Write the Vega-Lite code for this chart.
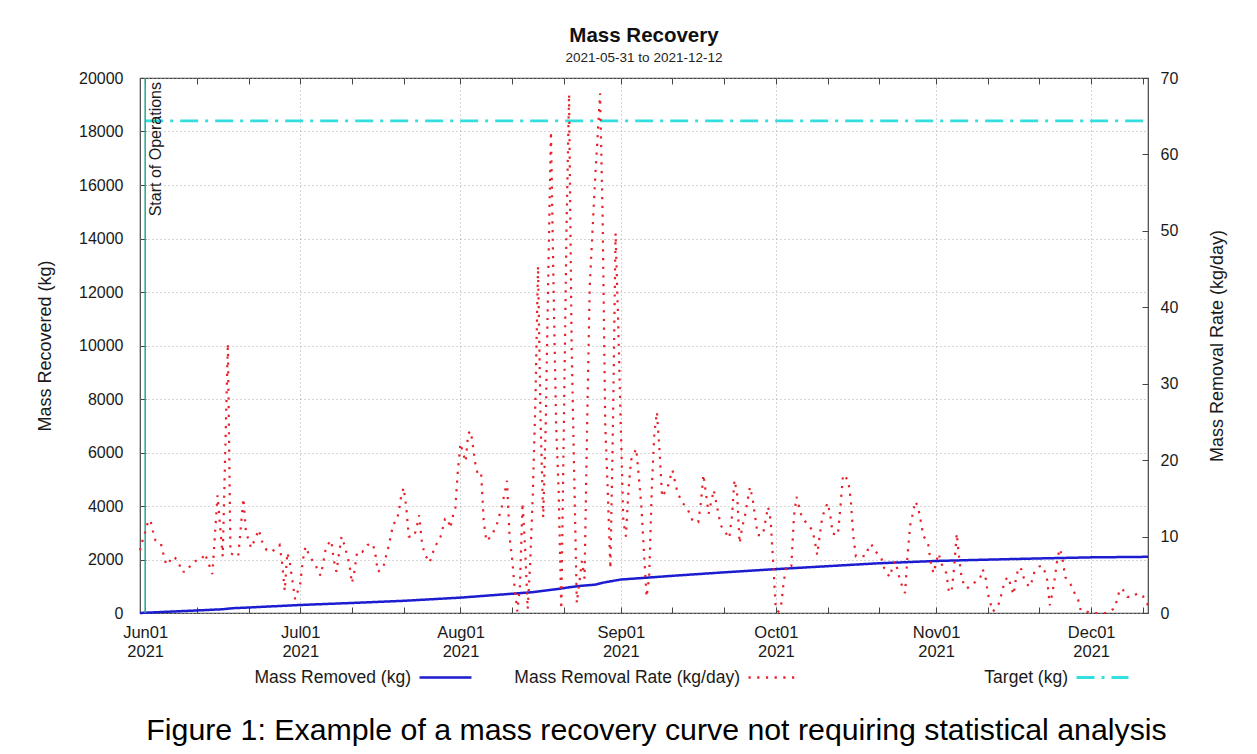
{
  "$schema": "https://vega.github.io/schema/vega-lite/v6.json",
  "width": 1008,
  "height": 535,
  "autosize": {"type": "none"},
  "padding": {"left": 140, "top": 78, "right": 109, "bottom": 141},
  "background": "white",
  "title": {
    "text": "Mass Recovery",
    "subtitle": "2021-05-31 to 2021-12-12",
    "anchor": "middle",
    "font": "Liberation Sans",
    "fontSize": 20.5,
    "fontWeight": "bold",
    "color": "#111",
    "subtitleFont": "Liberation Sans",
    "subtitleFontSize": 13.5,
    "subtitleColor": "#222",
    "subtitlePadding": 4,
    "offset": 6
  },
  "datasets": {
    "mass": [
      {"date": "2021-05-31", "kg": 0, "series": "Mass Removed (kg)"},
      {"date": "2021-06-01", "kg": 10, "series": "Mass Removed (kg)"},
      {"date": "2021-06-11", "kg": 95, "series": "Mass Removed (kg)"},
      {"date": "2021-06-16", "kg": 140, "series": "Mass Removed (kg)"},
      {"date": "2021-06-18", "kg": 180, "series": "Mass Removed (kg)"},
      {"date": "2021-06-21", "kg": 205, "series": "Mass Removed (kg)"},
      {"date": "2021-07-01", "kg": 300, "series": "Mass Removed (kg)"},
      {"date": "2021-07-11", "kg": 375, "series": "Mass Removed (kg)"},
      {"date": "2021-07-21", "kg": 455, "series": "Mass Removed (kg)"},
      {"date": "2021-08-01", "kg": 575, "series": "Mass Removed (kg)"},
      {"date": "2021-08-11", "kg": 720, "series": "Mass Removed (kg)"},
      {"date": "2021-08-15", "kg": 780, "series": "Mass Removed (kg)"},
      {"date": "2021-08-17", "kg": 830, "series": "Mass Removed (kg)"},
      {"date": "2021-08-20", "kg": 900, "series": "Mass Removed (kg)"},
      {"date": "2021-08-22", "kg": 960, "series": "Mass Removed (kg)"},
      {"date": "2021-08-24", "kg": 1010, "series": "Mass Removed (kg)"},
      {"date": "2021-08-27", "kg": 1060, "series": "Mass Removed (kg)"},
      {"date": "2021-08-29", "kg": 1150, "series": "Mass Removed (kg)"},
      {"date": "2021-09-01", "kg": 1250, "series": "Mass Removed (kg)"},
      {"date": "2021-09-11", "kg": 1390, "series": "Mass Removed (kg)"},
      {"date": "2021-09-21", "kg": 1520, "series": "Mass Removed (kg)"},
      {"date": "2021-10-01", "kg": 1640, "series": "Mass Removed (kg)"},
      {"date": "2021-10-11", "kg": 1750, "series": "Mass Removed (kg)"},
      {"date": "2021-10-21", "kg": 1860, "series": "Mass Removed (kg)"},
      {"date": "2021-11-01", "kg": 1945, "series": "Mass Removed (kg)"},
      {"date": "2021-11-11", "kg": 1995, "series": "Mass Removed (kg)"},
      {"date": "2021-11-21", "kg": 2040, "series": "Mass Removed (kg)"},
      {"date": "2021-12-01", "kg": 2080, "series": "Mass Removed (kg)"},
      {"date": "2021-12-12", "kg": 2100, "series": "Mass Removed (kg)"}
    ],
    "target": [
      {"date": "2021-06-01", "kg": 18400, "tseries": "Target (kg)"},
      {"date": "2021-12-12", "kg": 18400, "tseries": "Target (kg)"}
    ],
    "ops": [
      {"date": "2021-06-01", "label": "Start of Operations"}
    ],
    "rate": [
      {"date": "2021-05-31", "rate": 8.2},
      {"date": "2021-05-31T12:00:00Z", "rate": 9.5},
      {"date": "2021-06-01", "rate": 10.6},
      {"date": "2021-06-01T12:00:00Z", "rate": 11.8},
      {"date": "2021-06-02", "rate": 12.2},
      {"date": "2021-06-02T12:00:00Z", "rate": 10.7},
      {"date": "2021-06-03", "rate": 9.5},
      {"date": "2021-06-04", "rate": 9.2},
      {"date": "2021-06-04T12:00:00Z", "rate": 7.8},
      {"date": "2021-06-05", "rate": 6.5},
      {"date": "2021-06-05T12:00:00Z", "rate": 6.3},
      {"date": "2021-06-06", "rate": 7.2},
      {"date": "2021-06-06T12:00:00Z", "rate": 7.4},
      {"date": "2021-06-07T12:00:00Z", "rate": 6.7},
      {"date": "2021-06-08", "rate": 5.4},
      {"date": "2021-06-09", "rate": 5.4},
      {"date": "2021-06-10", "rate": 6.5},
      {"date": "2021-06-11T12:00:00Z", "rate": 7.1},
      {"date": "2021-06-12", "rate": 7.1},
      {"date": "2021-06-12T12:00:00Z", "rate": 7.8},
      {"date": "2021-06-13", "rate": 7.0},
      {"date": "2021-06-14", "rate": 5.1},
      {"date": "2021-06-15", "rate": 15.4},
      {"date": "2021-06-16", "rate": 7.4},
      {"date": "2021-06-17", "rate": 35.3},
      {"date": "2021-06-17T12:00:00Z", "rate": 7.8},
      {"date": "2021-06-19", "rate": 7.4},
      {"date": "2021-06-20", "rate": 15.0},
      {"date": "2021-06-20T12:00:00Z", "rate": 10.6},
      {"date": "2021-06-21T12:00:00Z", "rate": 8.5},
      {"date": "2021-06-23", "rate": 10.9},
      {"date": "2021-06-23T12:00:00Z", "rate": 9.5},
      {"date": "2021-06-24T12:00:00Z", "rate": 8.2},
      {"date": "2021-06-25T12:00:00Z", "rate": 8.0},
      {"date": "2021-06-27", "rate": 8.9},
      {"date": "2021-06-27T12:00:00Z", "rate": 6.5},
      {"date": "2021-06-28", "rate": 2.9},
      {"date": "2021-06-28T12:00:00Z", "rate": 7.9},
      {"date": "2021-06-29", "rate": 6.5},
      {"date": "2021-06-30", "rate": 1.8},
      {"date": "2021-07-01", "rate": 3.8},
      {"date": "2021-07-01T12:00:00Z", "rate": 6.9},
      {"date": "2021-07-02", "rate": 8.7},
      {"date": "2021-07-03", "rate": 7.2},
      {"date": "2021-07-04", "rate": 6.3},
      {"date": "2021-07-04T12:00:00Z", "rate": 5.2},
      {"date": "2021-07-05", "rate": 4.9},
      {"date": "2021-07-06", "rate": 8.7},
      {"date": "2021-07-07", "rate": 9.5},
      {"date": "2021-07-07T12:00:00Z", "rate": 6.9},
      {"date": "2021-07-08", "rate": 5.4},
      {"date": "2021-07-08T12:00:00Z", "rate": 7.8},
      {"date": "2021-07-09", "rate": 10.0},
      {"date": "2021-07-09T12:00:00Z", "rate": 9.0},
      {"date": "2021-07-10", "rate": 7.7},
      {"date": "2021-07-10T12:00:00Z", "rate": 6.4},
      {"date": "2021-07-11", "rate": 3.9},
      {"date": "2021-07-11T12:00:00Z", "rate": 5.5},
      {"date": "2021-07-12", "rate": 8.0},
      {"date": "2021-07-13", "rate": 8.0},
      {"date": "2021-07-14", "rate": 8.9},
      {"date": "2021-07-15", "rate": 9.1},
      {"date": "2021-07-15T12:00:00Z", "rate": 7.9},
      {"date": "2021-07-16", "rate": 5.4},
      {"date": "2021-07-17", "rate": 5.8},
      {"date": "2021-07-17T12:00:00Z", "rate": 7.2},
      {"date": "2021-07-18", "rate": 8.5},
      {"date": "2021-07-18T12:00:00Z", "rate": 10.0},
      {"date": "2021-07-19", "rate": 11.7},
      {"date": "2021-07-19T12:00:00Z", "rate": 11.9},
      {"date": "2021-07-20", "rate": 13.0},
      {"date": "2021-07-20T12:00:00Z", "rate": 15.2},
      {"date": "2021-07-21", "rate": 16.4},
      {"date": "2021-07-21T12:00:00Z", "rate": 13.9},
      {"date": "2021-07-22", "rate": 10.0},
      {"date": "2021-07-23", "rate": 10.0},
      {"date": "2021-07-23T12:00:00Z", "rate": 11.1},
      {"date": "2021-07-24", "rate": 12.8},
      {"date": "2021-07-24T12:00:00Z", "rate": 9.5},
      {"date": "2021-07-25", "rate": 7.8},
      {"date": "2021-07-26", "rate": 6.6},
      {"date": "2021-07-26T12:00:00Z", "rate": 7.5},
      {"date": "2021-07-27", "rate": 8.7},
      {"date": "2021-07-28", "rate": 9.6},
      {"date": "2021-07-28T12:00:00Z", "rate": 10.9},
      {"date": "2021-07-29", "rate": 12.3},
      {"date": "2021-07-29T12:00:00Z", "rate": 12.4},
      {"date": "2021-07-30", "rate": 11.1},
      {"date": "2021-07-30T12:00:00Z", "rate": 12.6},
      {"date": "2021-07-31", "rate": 13.7},
      {"date": "2021-07-31T12:00:00Z", "rate": 18.7},
      {"date": "2021-08-01", "rate": 22.2},
      {"date": "2021-08-01T12:00:00Z", "rate": 20.9},
      {"date": "2021-08-02", "rate": 19.8},
      {"date": "2021-08-02T12:00:00Z", "rate": 23.5},
      {"date": "2021-08-03", "rate": 23.8},
      {"date": "2021-08-03T12:00:00Z", "rate": 21.4},
      {"date": "2021-08-04", "rate": 18.9},
      {"date": "2021-08-04T12:00:00Z", "rate": 18.0},
      {"date": "2021-08-05", "rate": 18.2},
      {"date": "2021-08-05T12:00:00Z", "rate": 12.0},
      {"date": "2021-08-06", "rate": 9.4},
      {"date": "2021-08-07", "rate": 10.1},
      {"date": "2021-08-08", "rate": 11.5},
      {"date": "2021-08-09", "rate": 13.9},
      {"date": "2021-08-10", "rate": 17.3},
      {"date": "2021-08-10T12:00:00Z", "rate": 9.9},
      {"date": "2021-08-11", "rate": 7.0},
      {"date": "2021-08-11T12:00:00Z", "rate": 3.1},
      {"date": "2021-08-12", "rate": 0.2},
      {"date": "2021-08-12T12:00:00Z", "rate": 3.6},
      {"date": "2021-08-13", "rate": 14.4},
      {"date": "2021-08-13T12:00:00Z", "rate": 8.5},
      {"date": "2021-08-14", "rate": 0.5},
      {"date": "2021-08-14T12:00:00Z", "rate": 6.8},
      {"date": "2021-08-15", "rate": 15.7},
      {"date": "2021-08-15T12:00:00Z", "rate": 28.0},
      {"date": "2021-08-16", "rate": 45.4},
      {"date": "2021-08-16T12:00:00Z", "rate": 25.0},
      {"date": "2021-08-17", "rate": 12.5},
      {"date": "2021-08-17T12:00:00Z", "rate": 25.0},
      {"date": "2021-08-18", "rate": 45.0},
      {"date": "2021-08-18T12:00:00Z", "rate": 63.0},
      {"date": "2021-08-19", "rate": 42.7},
      {"date": "2021-08-19T12:00:00Z", "rate": 24.7},
      {"date": "2021-08-20", "rate": 15.7},
      {"date": "2021-08-20T12:00:00Z", "rate": 0.5},
      {"date": "2021-08-21", "rate": 24.7},
      {"date": "2021-08-21T12:00:00Z", "rate": 50.0},
      {"date": "2021-08-22", "rate": 67.9},
      {"date": "2021-08-22T12:00:00Z", "rate": 35.0},
      {"date": "2021-08-23", "rate": 18.0},
      {"date": "2021-08-23T12:00:00Z", "rate": 1.3},
      {"date": "2021-08-24T12:00:00Z", "rate": 6.8},
      {"date": "2021-08-25", "rate": 4.5},
      {"date": "2021-08-25T12:00:00Z", "rate": 24.7},
      {"date": "2021-08-26", "rate": 42.7},
      {"date": "2021-08-27", "rate": 56.2},
      {"date": "2021-08-28", "rate": 68.0},
      {"date": "2021-08-28T12:00:00Z", "rate": 51.7},
      {"date": "2021-08-29", "rate": 24.7},
      {"date": "2021-08-29T12:00:00Z", "rate": 15.7},
      {"date": "2021-08-30", "rate": 5.8},
      {"date": "2021-08-30T12:00:00Z", "rate": 24.7},
      {"date": "2021-08-31", "rate": 49.7},
      {"date": "2021-08-31T12:00:00Z", "rate": 38.2},
      {"date": "2021-09-01", "rate": 24.7},
      {"date": "2021-09-01T12:00:00Z", "rate": 12.0},
      {"date": "2021-09-02", "rate": 10.0},
      {"date": "2021-09-02T12:00:00Z", "rate": 16.1},
      {"date": "2021-09-03", "rate": 20.0},
      {"date": "2021-09-04", "rate": 21.5},
      {"date": "2021-09-04T12:00:00Z", "rate": 17.8},
      {"date": "2021-09-05", "rate": 13.9},
      {"date": "2021-09-05T12:00:00Z", "rate": 7.8},
      {"date": "2021-09-06", "rate": 2.1},
      {"date": "2021-09-06T12:00:00Z", "rate": 4.7},
      {"date": "2021-09-07", "rate": 16.1},
      {"date": "2021-09-07T12:00:00Z", "rate": 23.5},
      {"date": "2021-09-08", "rate": 26.3},
      {"date": "2021-09-08T12:00:00Z", "rate": 21.3},
      {"date": "2021-09-09", "rate": 15.2},
      {"date": "2021-09-10", "rate": 16.3},
      {"date": "2021-09-11", "rate": 18.7},
      {"date": "2021-09-12", "rate": 15.7},
      {"date": "2021-09-13", "rate": 14.4},
      {"date": "2021-09-14", "rate": 13.5},
      {"date": "2021-09-15", "rate": 11.9},
      {"date": "2021-09-16", "rate": 11.9},
      {"date": "2021-09-16T12:00:00Z", "rate": 14.4},
      {"date": "2021-09-17", "rate": 18.1},
      {"date": "2021-09-18", "rate": 13.0},
      {"date": "2021-09-19", "rate": 16.1},
      {"date": "2021-09-20", "rate": 12.6},
      {"date": "2021-09-20T12:00:00Z", "rate": 11.3},
      {"date": "2021-09-22", "rate": 9.8},
      {"date": "2021-09-22T12:00:00Z", "rate": 12.6},
      {"date": "2021-09-23", "rate": 17.4},
      {"date": "2021-09-23T12:00:00Z", "rate": 15.7},
      {"date": "2021-09-24", "rate": 9.1},
      {"date": "2021-09-24T12:00:00Z", "rate": 11.3},
      {"date": "2021-09-25", "rate": 12.6},
      {"date": "2021-09-26", "rate": 16.5},
      {"date": "2021-09-26T12:00:00Z", "rate": 15.0},
      {"date": "2021-09-27", "rate": 12.6},
      {"date": "2021-09-27T12:00:00Z", "rate": 10.2},
      {"date": "2021-09-28T12:00:00Z", "rate": 10.2},
      {"date": "2021-09-29T12:00:00Z", "rate": 13.9},
      {"date": "2021-09-30", "rate": 12.2},
      {"date": "2021-09-30T12:00:00Z", "rate": 6.5},
      {"date": "2021-10-01", "rate": 0.4},
      {"date": "2021-10-01T12:00:00Z", "rate": 0.2},
      {"date": "2021-10-02", "rate": 0.8},
      {"date": "2021-10-02T12:00:00Z", "rate": 3.9},
      {"date": "2021-10-03", "rate": 6.1},
      {"date": "2021-10-04", "rate": 6.1},
      {"date": "2021-10-04T12:00:00Z", "rate": 12.6},
      {"date": "2021-10-05", "rate": 15.2},
      {"date": "2021-10-05T12:00:00Z", "rate": 13.9},
      {"date": "2021-10-06", "rate": 12.6},
      {"date": "2021-10-07", "rate": 11.7},
      {"date": "2021-10-08", "rate": 10.9},
      {"date": "2021-10-08T12:00:00Z", "rate": 9.6},
      {"date": "2021-10-09", "rate": 7.6},
      {"date": "2021-10-09T12:00:00Z", "rate": 10.2},
      {"date": "2021-10-10", "rate": 12.6},
      {"date": "2021-10-11", "rate": 14.4},
      {"date": "2021-10-11T12:00:00Z", "rate": 13.0},
      {"date": "2021-10-12", "rate": 10.4},
      {"date": "2021-10-13", "rate": 10.2},
      {"date": "2021-10-13T12:00:00Z", "rate": 13.9},
      {"date": "2021-10-14", "rate": 18.1},
      {"date": "2021-10-15", "rate": 17.4},
      {"date": "2021-10-15T12:00:00Z", "rate": 14.8},
      {"date": "2021-10-16", "rate": 10.0},
      {"date": "2021-10-16T12:00:00Z", "rate": 7.4},
      {"date": "2021-10-17T12:00:00Z", "rate": 7.4},
      {"date": "2021-10-18T12:00:00Z", "rate": 7.5},
      {"date": "2021-10-19", "rate": 8.8},
      {"date": "2021-10-19T12:00:00Z", "rate": 9.0},
      {"date": "2021-10-20", "rate": 8.2},
      {"date": "2021-10-21", "rate": 7.6},
      {"date": "2021-10-21T12:00:00Z", "rate": 7.0},
      {"date": "2021-10-22", "rate": 5.8},
      {"date": "2021-10-23", "rate": 4.7},
      {"date": "2021-10-23T12:00:00Z", "rate": 5.8},
      {"date": "2021-10-24", "rate": 6.8},
      {"date": "2021-10-24T12:00:00Z", "rate": 5.8},
      {"date": "2021-10-25", "rate": 4.3},
      {"date": "2021-10-26", "rate": 2.6},
      {"date": "2021-10-26T12:00:00Z", "rate": 7.8},
      {"date": "2021-10-27", "rate": 11.5},
      {"date": "2021-10-27T12:00:00Z", "rate": 13.0},
      {"date": "2021-10-28", "rate": 14.6},
      {"date": "2021-10-28T12:00:00Z", "rate": 13.9},
      {"date": "2021-10-29", "rate": 12.2},
      {"date": "2021-10-29T12:00:00Z", "rate": 10.2},
      {"date": "2021-10-30T12:00:00Z", "rate": 8.9},
      {"date": "2021-10-31", "rate": 6.5},
      {"date": "2021-10-31T12:00:00Z", "rate": 5.2},
      {"date": "2021-11-01", "rate": 6.6},
      {"date": "2021-11-01T12:00:00Z", "rate": 7.8},
      {"date": "2021-11-02", "rate": 6.5},
      {"date": "2021-11-03", "rate": 5.2},
      {"date": "2021-11-03T12:00:00Z", "rate": 2.7},
      {"date": "2021-11-04", "rate": 2.8},
      {"date": "2021-11-04T12:00:00Z", "rate": 6.0},
      {"date": "2021-11-05", "rate": 10.4},
      {"date": "2021-11-05T12:00:00Z", "rate": 7.0},
      {"date": "2021-11-06", "rate": 4.3},
      {"date": "2021-11-07", "rate": 3.2},
      {"date": "2021-11-08", "rate": 3.9},
      {"date": "2021-11-08T12:00:00Z", "rate": 4.0},
      {"date": "2021-11-09T12:00:00Z", "rate": 4.5},
      {"date": "2021-11-10", "rate": 5.7},
      {"date": "2021-11-10T12:00:00Z", "rate": 5.0},
      {"date": "2021-11-11", "rate": 2.6},
      {"date": "2021-11-11T12:00:00Z", "rate": 1.3},
      {"date": "2021-11-12", "rate": 0.2},
      {"date": "2021-11-13", "rate": 0.9},
      {"date": "2021-11-13T12:00:00Z", "rate": 2.1},
      {"date": "2021-11-14", "rate": 3.4},
      {"date": "2021-11-14T12:00:00Z", "rate": 4.4},
      {"date": "2021-11-15", "rate": 4.7},
      {"date": "2021-11-15T12:00:00Z", "rate": 3.4},
      {"date": "2021-11-16", "rate": 2.4},
      {"date": "2021-11-16T12:00:00Z", "rate": 4.7},
      {"date": "2021-11-17", "rate": 6.0},
      {"date": "2021-11-17T12:00:00Z", "rate": 5.7},
      {"date": "2021-11-18", "rate": 4.5},
      {"date": "2021-11-19", "rate": 3.4},
      {"date": "2021-11-19T12:00:00Z", "rate": 4.1},
      {"date": "2021-11-20", "rate": 5.3},
      {"date": "2021-11-21", "rate": 6.1},
      {"date": "2021-11-21T12:00:00Z", "rate": 6.2},
      {"date": "2021-11-22", "rate": 5.5},
      {"date": "2021-11-22T12:00:00Z", "rate": 4.3},
      {"date": "2021-11-23", "rate": 1.0},
      {"date": "2021-11-23T12:00:00Z", "rate": 2.6},
      {"date": "2021-11-24", "rate": 4.7},
      {"date": "2021-11-24T12:00:00Z", "rate": 7.3},
      {"date": "2021-11-25", "rate": 8.4},
      {"date": "2021-11-25T12:00:00Z", "rate": 6.9},
      {"date": "2021-11-26", "rate": 4.7},
      {"date": "2021-11-27", "rate": 3.8},
      {"date": "2021-11-27T12:00:00Z", "rate": 3.0},
      {"date": "2021-11-28T12:00:00Z", "rate": 1.7},
      {"date": "2021-11-29", "rate": 0.3},
      {"date": "2021-12-01T12:00:00Z", "rate": 0.0},
      {"date": "2021-12-03", "rate": 0.0},
      {"date": "2021-12-04", "rate": 0.0},
      {"date": "2021-12-05T12:00:00Z", "rate": 0.6},
      {"date": "2021-12-06", "rate": 1.7},
      {"date": "2021-12-06T12:00:00Z", "rate": 3.0},
      {"date": "2021-12-07", "rate": 3.2},
      {"date": "2021-12-08", "rate": 2.1},
      {"date": "2021-12-09", "rate": 2.1},
      {"date": "2021-12-10", "rate": 2.6},
      {"date": "2021-12-11", "rate": 2.2},
      {"date": "2021-12-11T12:00:00Z", "rate": 1.7},
      {"date": "2021-12-12", "rate": 1.0}
    ]
  },
  "layer": [
    {
      "layer": [
        {
          "data": {"name": "mass"},
          "mark": {"type": "line", "strokeWidth": 2.5},
          "encoding": {
            "x": {
              "field": "date", "type": "temporal",
              "scale": {"type": "utc", "domain": [{"year": 2021, "month": 5, "date": 31, "utc": true}, {"year": 2021, "month": 12, "date": 12, "utc": true}]},
              "axis": {
                "orient": "bottom",
                "values": [
                  {"year": 2021, "month": 6, "date": 1, "utc": true}, {"year": 2021, "month": 6, "date": 11, "utc": true}, {"year": 2021, "month": 6, "date": 21, "utc": true},
                  {"year": 2021, "month": 7, "date": 1, "utc": true}, {"year": 2021, "month": 7, "date": 11, "utc": true}, {"year": 2021, "month": 7, "date": 21, "utc": true},
                  {"year": 2021, "month": 8, "date": 1, "utc": true}, {"year": 2021, "month": 8, "date": 11, "utc": true}, {"year": 2021, "month": 8, "date": 21, "utc": true},
                  {"year": 2021, "month": 9, "date": 1, "utc": true}, {"year": 2021, "month": 9, "date": 11, "utc": true}, {"year": 2021, "month": 9, "date": 21, "utc": true},
                  {"year": 2021, "month": 10, "date": 1, "utc": true}, {"year": 2021, "month": 10, "date": 11, "utc": true}, {"year": 2021, "month": 10, "date": 21, "utc": true},
                  {"year": 2021, "month": 11, "date": 1, "utc": true}, {"year": 2021, "month": 11, "date": 11, "utc": true}, {"year": 2021, "month": 11, "date": 21, "utc": true},
                  {"year": 2021, "month": 12, "date": 1, "utc": true}, {"year": 2021, "month": 12, "date": 11, "utc": true}
                ],
                "labelExpr": "utcdate(datum.value) == 1 ? [utcFormat(datum.value, '%b%d'), utcFormat(datum.value, '%Y')] : ''",
                "labelOverlap": false,
                "labelFlush": false,
                "labelFont": "Liberation Sans",
                "labelFontSize": 16.5,
                "labelColor": "#1a1a1a",
                "labelLineHeight": 19,
                "labelPadding": 17,
                "tickSize": -6,
                "tickColor": "#444",
                "domain": false,
                "grid": true,
                "gridDash": [1, 3],
                "gridColor": "#aaaaaa",
                "gridOpacity": {"condition": {"test": "utcdate(datum.value) == 1", "value": 1}, "value": 0},
                "title": "Figure 1: Example of a mass recovery curve not requiring statistical analysis",
                "titleFont": "Liberation Sans",
                "titleFontSize": 30.3,
                "titleFontWeight": "normal",
                "titleColor": "#000",
                "titlePadding": 56,
                "titleX": 516
              }
            },
            "y": {
              "field": "kg", "type": "quantitative",
              "scale": {"domain": [0, 20000], "nice": false},
              "axis": {
                "orient": "left",
                "values": [0, 2000, 4000, 6000, 8000, 10000, 12000, 14000, 16000, 18000, 20000],
                "format": "d",
                "labelFont": "Liberation Sans",
                "labelFontSize": 16,
                "labelColor": "#1a1a1a",
                "labelPadding": 23,
                "tickSize": -6,
                "tickColor": "#444",
                "domain": false,
                "grid": true,
                "gridDash": [1, 3],
                "gridColor": "#aaaaaa",
                "title": "Mass Recovered (kg)",
                "titleFont": "Liberation Sans",
                "titleFontSize": 18,
                "titleFontWeight": "normal",
                "titleColor": "#1a1a1a",
                "titlePadding": 24.5
              }
            },
            "color": {
              "field": "series", "type": "nominal",
              "scale": {"domain": ["Mass Removed (kg)", "Mass Removal Rate (kg/day)"], "range": ["#1c1cd0", "#e8202a"]},
              "legend": {
                "title": null, "orient": "none", "legendX": 278, "legendY": 572, "direction": "horizontal",
                "symbolType": "stroke", "symbolSize": 2700, "symbolStrokeWidth": 2.5,
                "labelFont": "Liberation Sans", "labelFontSize": 17.5, "labelColor": "#1a1a1a", "labelLimit": 0,
                "labelAlign": "right", "labelOffset": -62, "columnPadding": 37, "gridAlign": "each"
              }
            },
            "strokeDash": {
              "field": "series", "type": "nominal",
              "scale": {"domain": ["Mass Removed (kg)", "Mass Removal Rate (kg/day)"], "range": [[1, 0], [2.2, 6.5]]},
              "legend": {
                "title": null, "orient": "none", "legendX": 278, "legendY": 572, "direction": "horizontal",
                "symbolType": "stroke", "symbolSize": 2700, "symbolStrokeWidth": 2.5,
                "labelFont": "Liberation Sans", "labelFontSize": 17.5, "labelColor": "#1a1a1a", "labelLimit": 0,
                "labelAlign": "right", "labelOffset": -62, "columnPadding": 37, "gridAlign": "each"
              }
            }
          }
        },
        {
          "data": {"name": "target"},
          "mark": {"type": "line", "strokeWidth": 2.8, "strokeDash": [18, 7, 3, 7]},
          "encoding": {
            "x": {"field": "date", "type": "temporal"},
            "y": {"field": "kg", "type": "quantitative"},
            "stroke": {
              "field": "tseries", "type": "nominal",
              "scale": {"domain": ["Target (kg)"], "range": ["#33dede"]},
              "legend": {
                "title": null, "orient": "none", "legendX": 935, "legendY": 572, "direction": "horizontal",
                "symbolType": "stroke", "symbolSize": 2700, "symbolStrokeWidth": 2.8, "symbolDash": [18, 7, 3, 7],
                "labelFont": "Liberation Sans", "labelFontSize": 17.5, "labelColor": "#1a1a1a", "labelLimit": 0,
                "labelAlign": "right", "labelOffset": -62
              }
            }
          }
        },
        {
          "data": {"name": "ops"},
          "mark": {"type": "rule", "color": "#25a890", "strokeWidth": 1.5},
          "encoding": {"x": {"field": "date", "type": "temporal"}}
        },
        {
          "data": {"name": "ops"},
          "mark": {"type": "text", "angle": 270, "align": "right", "baseline": "top", "dx": -4, "dy": 3, "font": "Liberation Sans", "fontSize": 16, "color": "#1a1a1a"},
          "encoding": {
            "x": {"field": "date", "type": "temporal"},
            "y": {"datum": 20000, "type": "quantitative"},
            "text": {"field": "label"}
          }
        }
      ]
    },
    {
      "data": {"name": "rate"},
      "mark": {"type": "line", "strokeWidth": 2.2},
      "encoding": {
        "x": {
          "field": "date", "type": "temporal",
          "axis": {
            "orient": "top",
            "values": [
              {"year": 2021, "month": 6, "date": 1, "utc": true}, {"year": 2021, "month": 6, "date": 11, "utc": true}, {"year": 2021, "month": 6, "date": 21, "utc": true},
              {"year": 2021, "month": 7, "date": 1, "utc": true}, {"year": 2021, "month": 7, "date": 11, "utc": true}, {"year": 2021, "month": 7, "date": 21, "utc": true},
              {"year": 2021, "month": 8, "date": 1, "utc": true}, {"year": 2021, "month": 8, "date": 11, "utc": true}, {"year": 2021, "month": 8, "date": 21, "utc": true},
              {"year": 2021, "month": 9, "date": 1, "utc": true}, {"year": 2021, "month": 9, "date": 11, "utc": true}, {"year": 2021, "month": 9, "date": 21, "utc": true},
              {"year": 2021, "month": 10, "date": 1, "utc": true}, {"year": 2021, "month": 10, "date": 11, "utc": true}, {"year": 2021, "month": 10, "date": 21, "utc": true},
              {"year": 2021, "month": 11, "date": 1, "utc": true}, {"year": 2021, "month": 11, "date": 11, "utc": true}, {"year": 2021, "month": 11, "date": 21, "utc": true},
              {"year": 2021, "month": 12, "date": 1, "utc": true}, {"year": 2021, "month": 12, "date": 11, "utc": true}
            ],
            "labels": false,
            "tickSize": -6,
            "tickColor": "#444",
            "domain": false,
            "grid": false,
            "title": null
          }
        },
        "y": {
          "field": "rate", "type": "quantitative",
          "scale": {"domain": [0, 70], "nice": false},
          "axis": {
            "orient": "right",
            "values": [0, 10, 20, 30, 40, 50, 60, 70],
            "labelFont": "Liberation Sans",
            "labelFontSize": 16,
            "labelColor": "#1a1a1a",
            "labelPadding": 18,
            "tickSize": -6,
            "tickColor": "#444",
            "domain": false,
            "grid": false,
            "title": "Mass Removal Rate (kg/day)",
            "titleAngle": 270,
            "titleFont": "Liberation Sans",
            "titleFontSize": 18,
            "titleFontWeight": "normal",
            "titleColor": "#1a1a1a",
            "titlePadding": 49
          }
        },
        "color": {
          "field": "series", "type": "nominal",
          "scale": {"domain": ["Mass Removed (kg)", "Mass Removal Rate (kg/day)"], "range": ["#1c1cd0", "#e8202a"]}
        },
        "strokeDash": {
          "field": "series", "type": "nominal",
          "scale": {"domain": ["Mass Removed (kg)", "Mass Removal Rate (kg/day)"], "range": [[1, 0], [2.2, 6.5]]}
        }
      },
      "transform": [{"calculate": "'Mass Removal Rate (kg/day)'", "as": "series"}]
    }
  ],
  "resolve": {"scale": {"y": "independent"}, "axis": {"x": "independent"}},
  "config": {
    "font": "Liberation Sans",
    "view": {"stroke": "#444", "strokeWidth": 1.2}
  }
}
